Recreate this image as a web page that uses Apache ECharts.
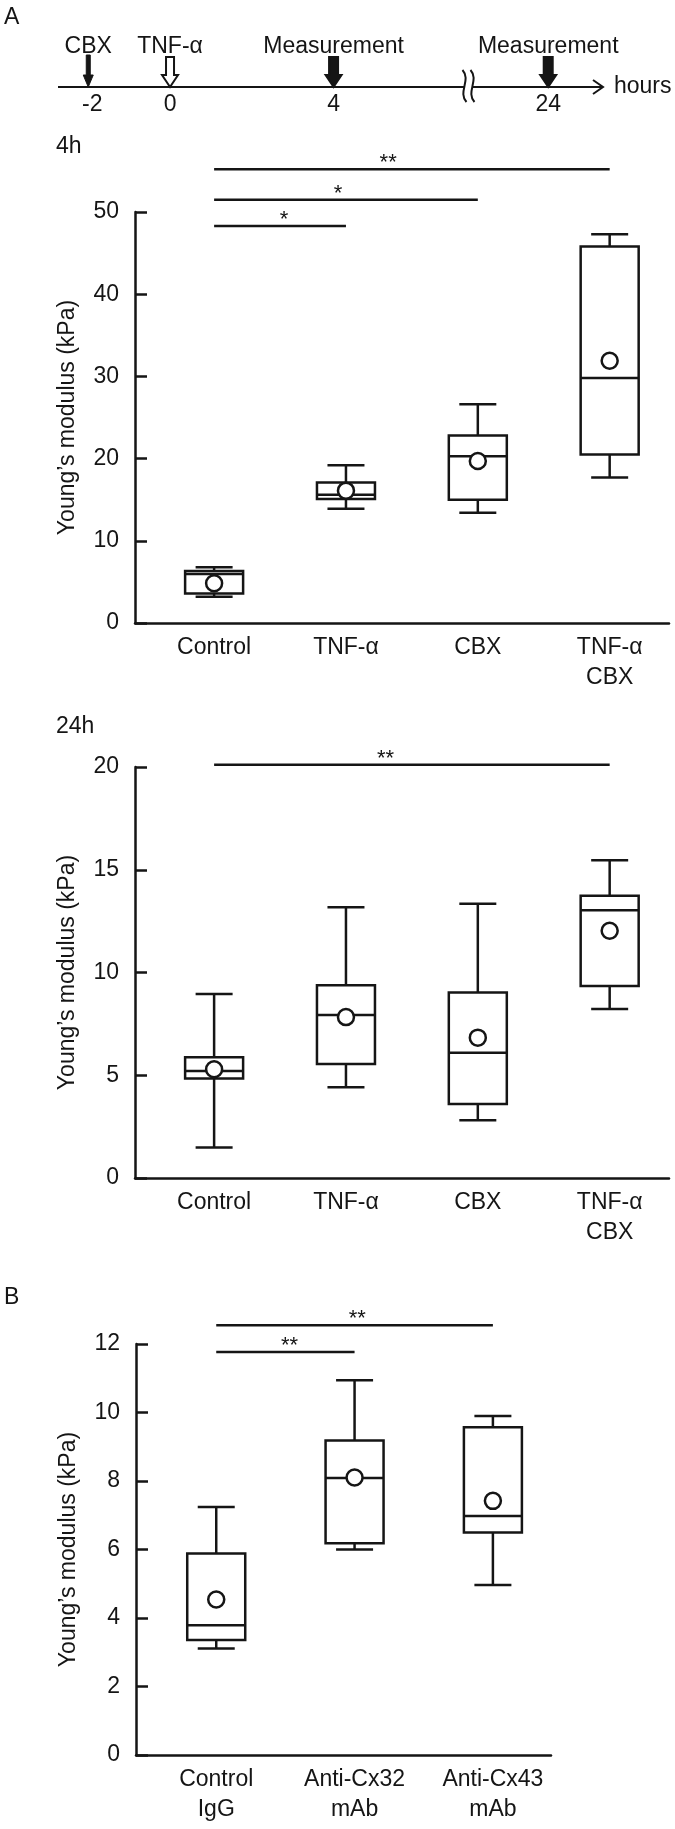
<!DOCTYPE html>
<html>
<head>
<meta charset="utf-8">
<script src="https://cdn.jsdelivr.net/npm/echarts@6/dist/echarts.min.js"></script>
<style>
html,body{margin:0;padding:0;background:#fff;}
#chart{width:675px;height:1829px;}
</style>
</head>
<body>
<div id="chart"></div>
<script>
// ---------- DATA ----------
// Timeline (panel A, top)
const timelineHours = [-2, 0, 4, 24];
const timelineTickLabels = ['-2', '0', '4', '24'];
const timelineEvents = ['CBX', 'TNF-α', 'Measurement', 'Measurement'];
const timelineArrowKinds = ['thin', 'hollow', 'bold', 'bold'];
const timelineBreak = [7.3, 22.05]; // hours hidden by the axis break

// 4h
const cats4h = ['Control', 'TNF-α', 'CBX', 'TNF-α\nCBX'];
const box4h = [ // [min, Q1, median, Q3, max]
  [3.2, 3.6, 5.96, 6.33, 6.77],
  [13.9, 15.1, 15.6, 17.1, 19.2],
  [13.4, 15.0, 20.3, 22.8, 26.6],
  [17.7, 20.5, 29.8, 45.8, 47.3]
];
const mean4h = [4.83, 16.1, 19.7, 31.9];
const ticks4h = [0, 50, 10];
const sig4h = [ // [from, to, y, star position, text]
  [0, 3, 55.2, 1.32, '**'],
  [0, 2, 51.5, 0.94, '*'],
  [0, 1, 48.3, 0.53, '*']
];

// 24h
const cats24h = ['Control', 'TNF-α', 'CBX', 'TNF-α\nCBX'];
const box24h = [
  [1.48, 4.84, 5.21, 5.87, 8.95],
  [4.42, 5.55, 7.93, 9.38, 13.18],
  [2.81, 3.6, 6.09, 9.03, 13.34],
  [8.22, 9.34, 13.03, 13.73, 15.46]
];
const mean24h = [5.29, 7.83, 6.83, 12.03];
const ticks24h = [0, 20, 5];
const sig24h = [
  [0, 3, 20.11, 1.30, '**']
];

// B
const catsB = ['Control\nIgG', 'Anti-Cx32\nmAb', 'Anti-Cx43\nmAb'];
const boxB = [
  [3.11, 3.36, 3.79, 5.88, 7.24],
  [6.0, 6.18, 8.09, 9.18, 10.94],
  [4.96, 6.5, 6.98, 9.57, 9.9]
];
const meanB = [4.54, 8.1, 7.42];
const ticksB = [0, 12, 2];
const sigB = [
  [0, 2, 12.55, 1.02, '**'],
  [0, 1, 11.77, 0.53, '**']
];

const yName = 'Young’s modulus (kPa)';

// ---------- STYLE ----------
const INK = '#151515';
const FONT = 'Liberation Sans, Arial, Helvetica, sans-serif';
const LW = 2.5;

const chart = echarts.init(document.getElementById('chart'), null, {renderer: 'canvas'});

function shownHour(h) {
  return h <= timelineBreak[0] ? h : h - (timelineBreak[1] - timelineBreak[0]);
}

function boxRender(params, api) {
  const x = api.value(0);
  const lo = api.coord([x, api.value(1)]);
  const q1 = api.coord([x, api.value(2)]);
  const md = api.coord([x, api.value(3)]);
  const q3 = api.coord([x, api.value(4)]);
  const hi = api.coord([x, api.value(5)]);
  const cx = lo[0], bw = 58, cw = 37;
  const st = {stroke: INK, lineWidth: LW, fill: null};
  return {type: 'group', children: [
    {type: 'line', shape: {x1: cx, y1: hi[1], x2: cx, y2: q3[1]}, style: st},
    {type: 'line', shape: {x1: cx, y1: q1[1], x2: cx, y2: lo[1]}, style: st},
    {type: 'line', shape: {x1: cx - cw / 2, y1: hi[1], x2: cx + cw / 2, y2: hi[1]}, style: st},
    {type: 'line', shape: {x1: cx - cw / 2, y1: lo[1], x2: cx + cw / 2, y2: lo[1]}, style: st},
    {type: 'rect', shape: {x: cx - bw / 2, y: q3[1], width: bw, height: q1[1] - q3[1]},
      style: {stroke: INK, lineWidth: LW, fill: '#fff'}},
    {type: 'line', shape: {x1: cx - bw / 2, y1: md[1], x2: cx + bw / 2, y2: md[1]}, style: st}
  ]};
}

const sigTexts = {
  sig4h: sig4h.map(d => d[4]),
  sig24h: sig24h.map(d => d[4]),
  sigB: sigB.map(d => d[4])
};
function sigRender(params, api) {
  const a = api.coord([api.value(0), api.value(2)]);
  const b = api.coord([api.value(1), api.value(2)]);
  const s = api.coord([api.value(3), api.value(2)]);
  const txt = sigTexts[params.seriesName][params.dataIndex];
  return {type: 'group', children: [
    {type: 'line', shape: {x1: a[0], y1: a[1], x2: b[0], y2: b[1]}, style: {stroke: INK, lineWidth: LW}},
    {type: 'text', style: {text: txt, x: s[0], y: a[1] - 6, align: 'center', verticalAlign: 'middle',
      font: '22px ' + FONT, fill: INK}}
  ]};
}

function timelineAxisRender(params, api) {
  const cs = params.coordSys;
  const y = api.coord([0, 0])[1];
  const bx = api.coord([timelineBreak[0], 0])[0];
  const x0 = cs.x, x1 = cs.x + cs.width;
  const st = {stroke: INK, lineWidth: 2, fill: null};
  const wave = (cx) => ({type: 'bezierCurve',
    shape: {x1: cx - 2, y1: y - 17, cpx1: cx + 7, cpy1: y - 7, cpx2: cx - 7, cpy2: y + 5, x2: cx + 2, y2: y + 15},
    style: {stroke: INK, lineWidth: 2, fill: null}});
  return {type: 'group', children: [
    {type: 'line', shape: {x1: x0, y1: y, x2: bx - 4, y2: y}, style: st},
    {type: 'line', shape: {x1: bx + 4, y1: y, x2: x1, y2: y}, style: st},
    {type: 'polyline', shape: {points: [[x1 - 10, y - 7], [x1, y], [x1 - 10, y + 7]]}, style: st},
    wave(bx - 4), wave(bx + 4),
    {type: 'text', style: {text: 'hours', x: x1 + 11, y: y, align: 'left', verticalAlign: 'middle',
      font: '23px ' + FONT, fill: INK}}
  ]};
}

function timelineEventRender(params, api) {
  const i = params.dataIndex;
  const top = api.coord([api.value(0), 1]);
  const bot = api.coord([api.value(0), 0]);
  const cx = bot[0], yt = top[1], yb = bot[1];
  const kind = timelineArrowKinds[i];
  let shape;
  if (kind === 'thin') {
    const sw = 2, hw = 5, hh = 12;
    shape = {type: 'polygon', shape: {points: [[cx - sw, yt - 2], [cx + sw, yt - 2], [cx + sw, yb - hh], [cx + hw, yb - hh],
      [cx, yb], [cx - hw, yb - hh], [cx - sw, yb - hh]]}, style: {fill: INK, stroke: INK, lineWidth: 1}};
  } else {
    const sw = kind === 'hollow' ? 4 : 4.5, hw = 8, hh = 12;
    shape = {type: 'polygon', shape: {points: [[cx - sw, yt], [cx + sw, yt], [cx + sw, yb - hh], [cx + hw, yb - hh],
      [cx, yb], [cx - hw, yb - hh], [cx - sw, yb - hh]]},
      style: {fill: kind === 'hollow' ? '#fff' : INK, stroke: INK, lineWidth: 2}};
  }
  return {type: 'group', children: [
    shape,
    {type: 'text', style: {text: timelineEvents[i], x: cx, y: yt - 10, align: 'center', verticalAlign: 'middle',
      font: '23px ' + FONT, fill: INK}},
    {type: 'text', style: {text: timelineTickLabels[i], x: cx + (i === 0 ? 4 : 0), y: yb + 18, align: 'center', verticalAlign: 'middle',
      font: '23px ' + FONT, fill: INK}}
  ]};
}

function xAxisFor(gridIndex, cats, min, max) {
  return {
    type: 'value', gridIndex, min, max,
    splitLine: {show: false},
    axisLine: {show: true, onZero: false, lineStyle: {color: INK, width: LW}},
    axisTick: {show: false},
    axisLabel: {
      show: true, customValues: cats.map((c, i) => i),
      formatter: v => cats[Math.round(v)] || '',
      color: INK, fontSize: 23, fontFamily: FONT, lineHeight: 30, margin: 10, interval: 0
    }
  };
}
function yAxisFor(gridIndex, t) {
  return {
    type: 'value', gridIndex, min: t[0], max: t[1], interval: t[2],
    name: yName, nameLocation: 'middle', nameGap: 56, nameRotate: 90,
    nameTextStyle: {color: INK, fontSize: 23, fontFamily: FONT},
    splitLine: {show: false},
    axisLine: {show: true, onZero: false, lineStyle: {color: INK, width: LW}},
    axisTick: {show: true, inside: true, length: 12, lineStyle: {color: INK, width: LW}},
    axisLabel: {color: INK, fontSize: 23, fontFamily: FONT, margin: 16}
  };
}

function panelSeries(idx, boxes, means, sig, sigName) {
  return [
    {type: 'custom', name: 'box' + idx, xAxisIndex: idx, yAxisIndex: idx, renderItem: boxRender,
      data: boxes.map((b, i) => [i].concat(b)), z: 2, silent: true},
    {type: 'scatter', name: 'mean' + idx, xAxisIndex: idx, yAxisIndex: idx, symbol: 'circle', symbolSize: 16,
      itemStyle: {color: '#fff', borderColor: INK, borderWidth: LW, opacity: 1},
      data: means.map((m, i) => [i, m]), z: 5, silent: true},
    {type: 'custom', name: sigName, xAxisIndex: idx, yAxisIndex: idx, renderItem: sigRender, clip: false,
      data: sig.map(d => [d[0], d[1], d[2], d[3]]), z: 3, silent: true}
  ];
}

const option = {
  animation: false,
  backgroundColor: '#fff',
  textStyle: {fontFamily: FONT, color: INK},
  title: [
    {text: 'A', left: 4, top: 6, padding: 0, textStyle: {fontSize: 23, fontWeight: 'normal', color: INK, fontFamily: FONT}},
    {text: '4h', left: 56, top: 135, padding: 0, textStyle: {fontSize: 23, fontWeight: 'normal', color: INK, fontFamily: FONT}},
    {text: '24h', left: 56, top: 715, padding: 0, textStyle: {fontSize: 23, fontWeight: 'normal', color: INK, fontFamily: FONT}},
    {text: 'B', left: 4, top: 1286, padding: 0, textStyle: {fontSize: 23, fontWeight: 'normal', color: INK, fontFamily: FONT}}
  ],
  grid: [
    {left: 58, width: 545, top: 57, height: 30},
    {left: 135, right: 6, top: 212, height: 411},
    {left: 135, right: 6, top: 767, height: 411},
    {left: 136, width: 415, top: 1344, height: 411}
  ],
  xAxis: [
    {type: 'value', gridIndex: 0, min: -2.74, max: 10.59, show: false},
    xAxisFor(1, cats4h, -0.6, 3.45),
    xAxisFor(2, cats24h, -0.6, 3.45),
    xAxisFor(3, catsB, -0.58, 2.42)
  ],
  yAxis: [
    {type: 'value', gridIndex: 0, min: 0, max: 1, show: false},
    yAxisFor(1, ticks4h),
    yAxisFor(2, ticks24h),
    yAxisFor(3, ticksB)
  ],
  series: [
    {type: 'custom', name: 'timelineAxis', xAxisIndex: 0, yAxisIndex: 0, renderItem: timelineAxisRender,
      data: [[0, 0]], clip: false, silent: true},
    {type: 'custom', name: 'timelineEvents', xAxisIndex: 0, yAxisIndex: 0, renderItem: timelineEventRender,
      data: timelineHours.map(h => [shownHour(h), 0]), clip: false, silent: true, z: 3}
  ].concat(
    panelSeries(1, box4h, mean4h, sig4h, 'sig4h'),
    panelSeries(2, box24h, mean24h, sig24h, 'sig24h'),
    panelSeries(3, boxB, meanB, sigB, 'sigB')
  )
};
chart.setOption(option);
</script>
</body>
</html>
